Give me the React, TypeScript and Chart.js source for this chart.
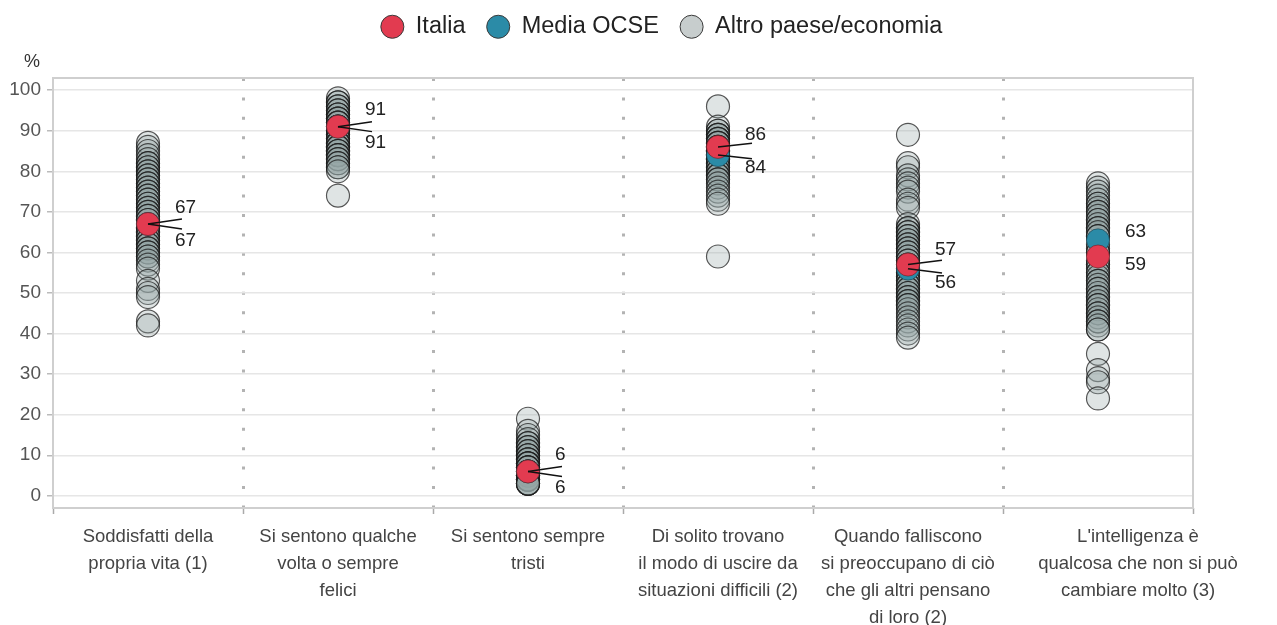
import { useEffect, useRef } from 'react';
import { Chart, registerables } from 'chart.js';

Chart.register(...registerables);

const CATEGORIES = [
  'Soddisfatti della propria vita (1)',
  'Si sentono qualche volta o sempre felici',
  'Si sentono sempre tristi',
  'Di solito trovano il modo di uscire da situazioni difficili (2)',
  'Quando falliscono si preoccupano di ciò che gli altri pensano di loro (2)',
  "L'intelligenza è qualcosa che non si può cambiare molto (3)",
];

const CATEGORY_LINES = [
  ['Soddisfatti della', 'propria vita (1)'],
  ['Si sentono qualche', 'volta o sempre', 'felici'],
  ['Si sentono sempre', 'tristi'],
  ['Di solito trovano', 'il modo di uscire da', 'situazioni difficili (2)'],
  ['Quando falliscono', 'si preoccupano di ciò', 'che gli altri pensano', 'di loro (2)'],
  ["L'intelligenza è", 'qualcosa che non si può', 'cambiare molto (3)'],
];

const Y_TICKS = [0, 10, 20, 30, 40, 50, 60, 70, 80, 90, 100];

const ITALIA = [67, 91, 6, 86, 57, 59];
const OCSE = [67, 91, 6, 84, 56, 63];

const OTHER_1 = [87, 86, 85, 84, 83, 82, 82, 81, 81, 80, 80, 79, 79, 78, 78, 77, 77, 76, 76, 75, 75, 74, 74, 73, 73, 72, 72, 71, 71, 70, 70, 69, 69, 68, 68, 67, 66, 66, 65, 65, 64, 64, 63, 63, 62, 62, 61, 61, 60, 60, 59, 59, 58, 57, 56, 53, 51, 50, 49, 43, 42];
const OTHER_2 = [98, 97, 97, 96, 96, 95, 95, 94, 94, 94, 93, 93, 93, 92, 92, 92, 91, 91, 91, 90, 90, 90, 89, 89, 89, 88, 88, 88, 87, 87, 87, 86, 86, 86, 85, 85, 85, 84, 84, 84, 83, 83, 82, 82, 81, 81, 80, 74];
const OTHER_3 = [19, 16, 15, 14, 13, 13, 12, 12, 11, 11, 10, 10, 10, 9, 9, 9, 8, 8, 8, 8, 7, 7, 7, 7, 6, 6, 6, 6, 5, 5, 5, 5, 5, 4, 4, 4, 4, 4, 3, 3, 3, 3, 3];
const OTHER_4 = [96, 91, 90, 90, 89, 89, 89, 88, 88, 88, 87, 87, 87, 86, 86, 86, 85, 85, 85, 84, 84, 84, 83, 83, 83, 82, 82, 81, 81, 80, 80, 79, 79, 78, 78, 77, 76, 75, 74, 73, 72, 59];
const OTHER_5 = [89, 82, 81, 79, 78, 77, 76, 75, 73, 72, 71, 67, 66, 66, 65, 65, 64, 64, 63, 63, 62, 62, 61, 61, 60, 60, 59, 59, 58, 58, 57, 57, 56, 56, 55, 55, 54, 54, 53, 53, 52, 52, 51, 51, 50, 50, 49, 49, 48, 48, 47, 47, 46, 45, 44, 43, 42, 41, 40, 39];
const OTHER_6 = [77, 76, 75, 74, 73, 72, 72, 71, 70, 70, 69, 68, 68, 67, 66, 66, 65, 64, 64, 62, 61, 60, 60, 58, 57, 57, 56, 55, 55, 54, 53, 53, 52, 51, 51, 50, 49, 49, 48, 47, 47, 46, 45, 45, 44, 43, 43, 42, 41, 41, 35, 31, 29, 28, 24];
const OTHERS = [OTHER_1, OTHER_2, OTHER_3, OTHER_4, OTHER_5, OTHER_6];

const SERIES_NAMES = ['Italia', 'Media OCSE', 'Altro paese/economia'];

const FONT = "'Liberation Sans', Arial, sans-serif";
const RED = '#e23b50';
const BLUE = '#2b8ba7';
const LEGEND_FILL = [RED, BLUE, '#c7cdcd'];

export default function App() {
  const ref = useRef<HTMLCanvasElement>(null);

  useEffect(() => {
    const canvas = ref.current;
    if (!canvas) return;

    const framePlugin = {
      id: 'frame',
      beforeDatasetsDraw(chart: any) {
        const { ctx, chartArea: a } = chart;
        ctx.save();
        ctx.strokeStyle = '#cfcfcf';
        ctx.lineWidth = 2;
        ctx.strokeRect(a.left, a.top, a.right - a.left, a.bottom - a.top);
        ctx.restore();
      },
    };

    // shift legend so that it is centred like the original; shift last category label right
    const layoutTweaks = {
      id: 'layoutTweaks',
      afterLayout(chart: any) {
        if (chart.legend) {
          chart.legend.left += 46;
        }
      },
      beforeDraw(chart: any) {
        const xs = chart.scales.x;
        const items = xs.getLabelItems(chart.chartArea);
        const last = items[items.length - 1];
        if (last && !last._shifted) {
          last._shifted = true;
          last.options.translation[0] += 40;
        }
      },
    };

    const percentPlugin = {
      id: 'percent',
      afterDraw(chart: any) {
        const { ctx } = chart;
        ctx.save();
        ctx.font = `18px ${FONT}`;
        ctx.fillStyle = '#333';
        ctx.textAlign = 'left';
        ctx.textBaseline = 'middle';
        ctx.fillText('%', 24, 62);
        ctx.restore();
      },
    };

    const valuePlugin = {
      id: 'values',
      afterDatasetsDraw(chart: any) {
        const { ctx } = chart;
        const xs = chart.scales.x;
        const ys = chart.scales.y;
        ctx.save();
        ctx.font = `19px ${FONT}`;
        ctx.fillStyle = '#222';
        ctx.strokeStyle = '#111';
        ctx.lineWidth = 1.5;
        ctx.textAlign = 'left';
        ctx.textBaseline = 'middle';
        CATEGORIES.forEach((_, i) => {
          const cx = xs.getPixelForValue(i);
          const a = ITALIA[i];
          const b = OCSE[i];
          const pa = ys.getPixelForValue(a);
          const pb = ys.getPixelForValue(b);
          const hi = a >= b ? { v: a, p: pa } : { v: b, p: pb };
          const lo = a >= b ? { v: b, p: pb } : { v: a, p: pa };
          let l1 = hi.p;
          let l2 = lo.p;
          if (l2 - l1 < 33) {
            const mid = (pa + pb) / 2;
            l1 = mid - 16.5;
            l2 = mid + 16.5;
          }
          [
            { v: hi.v, p: hi.p, l: l1 },
            { v: lo.v, p: lo.p, l: l2 },
          ].forEach((it) => {
            if (Math.abs(it.l - it.p) >= 12) {
              ctx.beginPath();
              ctx.moveTo(cx, it.p);
              ctx.lineTo(cx + 34, it.p + (it.l - it.p) * 0.3);
              ctx.stroke();
            }
            ctx.fillText(String(it.v), cx + 27, it.l);
          });
        });
        ctx.restore();
      },
    };

    const toPoints = (vals: number[]) => vals.map((v, i) => ({ x: CATEGORIES[i], y: v }));

    const chart = new Chart(canvas, {
      type: 'scatter',
      data: {
        labels: CATEGORIES,
        datasets: [
          {
            label: SERIES_NAMES[0],
            data: toPoints(ITALIA),
            backgroundColor: RED,
            borderColor: 'rgba(90,30,35,0.55)',
            borderWidth: 1,
            pointRadius: 11.5,
            pointHoverRadius: 11.5,
          },
          {
            label: SERIES_NAMES[1],
            data: toPoints(OCSE),
            backgroundColor: BLUE,
            borderColor: 'rgba(20,50,60,0.55)',
            borderWidth: 1,
            pointRadius: 11.5,
            pointHoverRadius: 11.5,
          },
          {
            label: SERIES_NAMES[2],
            data: OTHERS.flatMap((arr, i) => arr.map((v) => ({ x: CATEGORIES[i], y: v }))),
            backgroundColor: 'rgba(150,164,166,0.3)',
            borderColor: 'rgba(25,25,25,0.72)',
            borderWidth: 1.2,
            pointRadius: 11.5,
            pointHoverRadius: 11.5,
          },
        ],
      } as any,
      options: {
        responsive: false,
        animation: false,
        layout: { padding: { left: 0, top: -6, right: 0, bottom: 0 } },
        plugins: {
          legend: {
            position: 'top',
            labels: {
              usePointStyle: true,
              pointStyle: 'circle',
              boxWidth: 23.5,
              boxHeight: 16.3,
              padding: 21,
              color: '#222',
              font: { family: FONT, size: 23.5 },
              generateLabels: (c: any) => {
                const items = (Chart.defaults.plugins.legend.labels as any).generateLabels(c);
                return items.map((it: any, i: number) => ({
                  ...it,
                  fillStyle: LEGEND_FILL[i],
                  strokeStyle: '#3a3a3a',
                  lineWidth: 1,
                  pointStyle: 'circle',
                }));
              },
            },
          },
          tooltip: { enabled: false },
        },
        scales: {
          x: {
            type: 'category',
            offset: true,
            grid: {
              offset: true,
              color: (c: any) =>
                c.index !== undefined && c.index > 0 && c.index < CATEGORIES.length ? '#b3b3b3' : 'rgba(0,0,0,0)',
              lineWidth: 3,
              tickColor: '#aaa',
              tickLength: 6,
              tickWidth: 1.5,
              tickBorderDash: [],
            },
            border: { display: false, dash: [3, 16.43] },
            ticks: {
              callback: (_v: any, i: number) => CATEGORY_LINES[i],
              color: '#444',
              font: { family: FONT, size: 18.5, lineHeight: '27px' },
              padding: 9.5,
              maxRotation: 0,
              autoSkip: false,
            },
            afterFit: (s: any) => {
              s.height = 117;
            },
          },
          xTop: {
            type: 'linear',
            position: 'top',
            display: true,
            grid: { display: false, drawTicks: false },
            ticks: { display: false },
            border: { display: false },
            afterFit: (s: any) => {
              s.height = 29.5;
            },
          },
          y: {
            min: -3,
            max: 103,
            afterBuildTicks: (s: any) => {
              s.ticks = Y_TICKS.map((v) => ({ value: v }));
            },
            grid: { color: '#e6e6e6', lineWidth: 1.5, tickColor: '#bbb', tickLength: 6 },
            border: { display: false },
            ticks: { color: '#555', font: { family: FONT, size: 19 }, padding: 6 },
            afterFit: (s: any) => {
              s.width = 53;
            },
          },
          yR: {
            type: 'linear',
            position: 'right',
            display: true,
            grid: { display: false, drawTicks: false },
            ticks: { display: false },
            border: { display: false },
            afterFit: (s: any) => {
              s.width = 84;
            },
          },
        },
      } as any,
      plugins: [layoutTweaks, framePlugin, valuePlugin, percentPlugin],
    });

    return () => chart.destroy();
  }, []);

  return (
    <div style={{ position: 'fixed', left: 0, top: 0, width: 1277, height: 625, background: '#fff' }}>
      <canvas ref={ref} width={1277} height={625} style={{ display: 'block' }} />
    </div>
  );
}
